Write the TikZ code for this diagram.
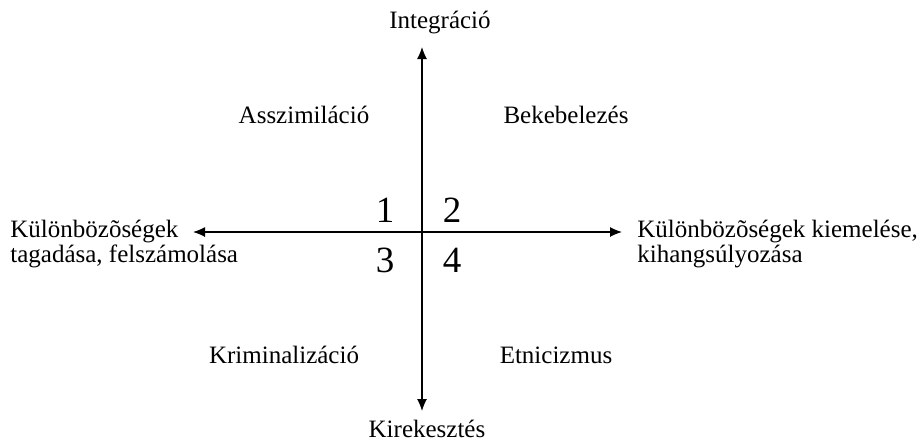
\documentclass[tikz,border=0pt]{standalone}
\usepackage{fontspec}
\setmainfont{Liberation Serif}
\usetikzlibrary{arrows.meta}

\tikzset{
  lbl/.style={anchor=base,font=\fontsize{12.5}{12.5}\selectfont,inner sep=0pt},
  num/.style={anchor=base,font=\fontsize{18.5}{20}\selectfont,inner sep=0pt},
  axis/.style={line width=0.6pt,{Latex[length=6pt,width=5pt]}-{Latex[length=6pt,width=5pt]}}
}

\begin{document}
\begin{tikzpicture}[x=0.5pt,y=-0.5pt]
\useasboundingbox (0,0) rectangle (922,441);

% axis ends
\coordinate (west) at (193,232);
\coordinate (east) at (622,232);
\coordinate (north) at (422,47);
\coordinate (south) at (422,411);
\draw[axis] (west) -- (east);
\draw[axis] (north) -- (south);

% axis labels
\node[lbl] (integr) at (440,28) {Integráció};
\node[lbl] (kirek) at (427,437) {Kirekesztés};
\node[lbl,anchor=base west,align=left] (tagad) at (10,262) {Különbözõségek\\tagadása, felszámolása};
\node[lbl,anchor=base west,align=left] (kiemel) at (637,262) {Különbözõségek kiemelése,\\kihangsúlyozása};

% quadrants
\node[lbl] (asszim) at (304,123) {Asszimiláció};
\node[lbl] (bekeb) at (566,123) {Bekebelezés};
\node[lbl] (krimin) at (284,363) {Kriminalizáció};
\node[lbl] (etnic) at (556,363) {Etnicizmus};

\node[num] (q1) at (385,222) {1};
\node[num] (q2) at (452,222) {2};
\node[num] (q3) at (385,272) {3};
\node[num] (q4) at (452,272) {4};
\end{tikzpicture}
\end{document}
